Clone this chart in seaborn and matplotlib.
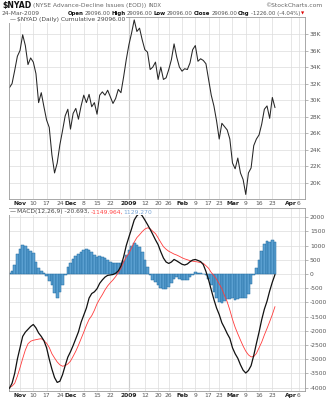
import numpy as np
import pandas as pd
import matplotlib
matplotlib.use("Agg")
import matplotlib.pyplot as plt
import seaborn as sns

# ---- data -------------------------------------------------------------
# NYSE cumulative advance-decline line, one value per trading day
# (Oct 28 2008 .. Mar 24 2009)
ad_line = [31500, 32000, 33600, 35300, 36000, 37900, 36600, 34300, 35100, 34600,
           33200, 29700, 30900, 29200, 27600, 26700, 23400, 21200, 22400, 24600,
           26300, 28100, 28900, 26500, 28400, 29000, 27700, 29300, 30600, 29700,
           30700, 29200, 29700, 28300, 30600, 31000, 30600, 31200, 30400, 29600,
           30200, 31300, 30900, 32800, 34900, 36700, 38100, 39700, 38300, 38700,
           37300, 36100, 35800, 33700, 34000, 34600, 32500, 34000, 32500, 32700,
           33700, 34900, 36800, 35200, 34000, 33500, 33800, 33700, 34500, 36100,
           36600, 34700, 35000, 34800, 34400, 32500, 30600, 29300, 27500, 25300,
           27200, 26800, 26400, 25300, 22400, 21700, 23000, 21200, 20400, 18600,
           21200, 21800, 24500, 25300, 25800, 27100, 28900, 29300, 27800, 30322,
           29096]

macd_line = [-4030, -3850, -3500, -3000, -2600, -2200, -2050, -1950, -1850, -1780,
             -1900, -2080, -2200, -2350, -2600, -3000, -3350, -3650, -3820, -3780,
             -3550, -3230, -2930, -2740, -2520, -2280, -2040, -1700, -1450, -1200,
             -850, -690, -630, -520, -330, -210, -110, -50, -35, -20,
             25, 110, 280, 600, 1000, 1300, 1590, 1900, 2050, 2140,
             2050, 1900, 1740, 1570, 1390, 1200, 1030, 780, 560, 420,
             370, 420, 510, 460, 400, 340, 315, 350, 430, 490,
             510, 475, 435, 330, 90, -210, -560, -900, -1200, -1430,
             -1720, -1900, -2100, -2270, -2600, -2810, -2970, -3200, -3390, -3490,
             -3400, -3230, -2870, -2450, -2050, -1610, -1240, -960, -600, -290,
             -20.693]

signal_line = [-4000, -3950, -3850, -3600, -3300, -2980, -2680, -2460, -2370, -2335,
               -2315, -2295, -2280, -2350, -2440, -2590, -2810, -2960, -3100, -3200,
               -3250, -3230, -3170, -3070, -2900, -2720, -2510, -2280, -2050, -1810,
               -1600, -1470, -1280, -1050, -880, -730, -560, -420, -310, -210,
               -93, 50, 200, 420, 600, 720, 920, 1120, 1280, 1380,
               1490, 1580, 1625, 1590, 1500, 1420, 1270, 1110, 960, 870,
               800, 750, 700, 665, 620, 570, 530, 500, 468, 450,
               435, 420, 400, 375, 290, 200, 50, -60, -190, -350,
               -520, -760, -980, -1270, -1600, -1880, -2110, -2330, -2540, -2720,
               -2850, -2920, -2910, -2800, -2600, -2400, -2150, -1920, -1680, -1430,
               -1149.964]

macd_hist = [20, 100, 330, 700, 880, 1010, 1000, 880, 820, 720,
             420, 220, 120, 20, -80, -250, -400, -680, -860, -650,
             -380, -40, 260, 380, 520, 640, 710, 760, 860, 890,
             850, 760, 670, 590, 620, 600, 550, 500, 420, 380,
             370, 390, 370, 450, 680, 850, 1000, 1090, 1020, 960,
             760, 480, 230, -30, -200, -300, -400, -480, -530, -520,
             -460, -330, -180, -100, -180, -230, -230, -220, -120, -20,
             80, 45, 25, 0, -30, -180, -400, -650, -830, -1000,
             -1040, -950, -890, -900, -860, -920, -900, -850, -850, -850,
             -700, -350, -50, 200, 480, 800, 1040, 1150, 1130, 1180,
             1129.270]

first_day, last_day = "2008-10-28", "2009-04-09"
market_holidays = ["2008-11-27", "2008-12-25", "2009-01-01", "2009-01-19",
                   "2009-02-16"]

tick_dates = ["2008-11-03", "2008-11-10", "2008-11-17", "2008-11-24",
              "2008-12-01", "2008-12-08", "2008-12-15", "2008-12-22",
              "2009-01-02", "2009-01-12", "2009-01-20", "2009-01-26",
              "2009-02-02", "2009-02-09", "2009-02-17", "2009-02-23",
              "2009-03-02", "2009-03-09", "2009-03-16", "2009-03-23",
              "2009-04-01", "2009-04-06"]
tick_labels = ["Nov", "10", "17", "24", "Dec", "8", "15", "22", "2009", "12",
               "20", "26", "Feb", "9", "17", "23", "Mar", "9", "16", "23",
               "Apr", "6"]
bold_labels = {"Nov", "Dec", "2009", "Feb", "Mar", "Apr"}

ad_ticks = np.arange(20000, 38001, 2000)
ad_tick_labels = [f"{v // 1000}K" for v in ad_ticks]
macd_ticks = np.arange(-4000, 2001, 500)

# ---- trading-day axis ------------------------------------------------
calendar = pd.bdate_range(first_day, last_day)
calendar = calendar[~calendar.isin(pd.to_datetime(market_holidays))]
day_pos = {d: i - 4 for i, d in enumerate(calendar)}   # Nov 3 -> 0
pos = np.array([day_pos[d] for d in calendar[:len(ad_line)]])
tick_pos = [day_pos[pd.Timestamp(d)] for d in tick_dates]

# ---- styling ----------------------------------------------------------
sns.set_style("white")
plt.rcParams["font.family"] = ["DejaVu Sans"]
W, H = 330, 400
fig = plt.figure(figsize=(W / 100, H / 100), dpi=100)
fig.patch.set_facecolor("white")

grid_c = "#dcdcdc"
frame_c = "#9a9a9a"
text_c = "#555555"
fs = 4.3

ax1 = fig.add_axes([9 / W, 1 - 199 / H, 296 / W, 182 / H])
ax2 = fig.add_axes([9 / W, 1 - 390.5 / H, 296 / W, 183 / H])

xlim = (-4.15, 107.3)


def style_axis(ax, yticks, ylabels, ylim):
    ax.set_xlim(*xlim)
    ax.set_ylim(*ylim)
    ax.set_yticks(yticks)
    ax.set_yticklabels(ylabels)
    ax.yaxis.tick_right()
    ax.set_xticks(tick_pos)
    ax.set_xticklabels(tick_labels)
    for lab in ax.get_xticklabels():
        if lab.get_text() in bold_labels:
            lab.set_fontweight("bold")
            lab.set_color("#222222")
        else:
            lab.set_color(text_c)
    ax.tick_params(axis="x", length=0, pad=1.5, labelsize=fs)
    ax.tick_params(axis="y", length=2, width=0.5, pad=1.5, labelsize=fs,
                   colors=frame_c, labelcolor=text_c)
    ax.grid(True, color=grid_c, linewidth=0.5)
    ax.set_axisbelow(True)
    for s in ax.spines.values():
        s.set_color(frame_c)
        s.set_linewidth(0.6)
    # darker year separator
    ax.axvline(day_pos[pd.Timestamp("2009-01-02")], color="#a8a8a8",
               linewidth=0.8, zorder=0.5)
    ax.set_xlabel("")
    ax.set_ylabel("")


# ---- top panel: cumulative A/D line ----------------------------------
sns.lineplot(x=pos, y=ad_line, ax=ax1, color="#262626", linewidth=0.75)
style_axis(ax1, ad_ticks, ad_tick_labels, (18050, 40050))

# ---- bottom panel: MACD ----------------------------------------------
sns.barplot(x=pos, y=macd_hist, native_scale=True, ax=ax2, width=1.0,
            color="#5a9fd0", saturation=1, edgecolor="#1f6aa0",
            linewidth=0.35, errorbar=None, zorder=1)
sns.lineplot(x=pos, y=macd_line, ax=ax2, color="#111111", linewidth=0.9,
             zorder=3)
sns.lineplot(x=pos, y=signal_line, ax=ax2, color="#ff3b3b", linewidth=0.6,
             zorder=2)
style_axis(ax2, macd_ticks, [str(v) for v in macd_ticks], (-4105, 2340))

# ---- text rows ---------------------------------------------------------
renderer = fig.canvas.get_renderer()


def put_row(x0, y, pieces, gap=1.2, box=False, size=fs):
    x = x0
    for s, kw in pieces:
        kw = dict(kw)
        kw.setdefault("fontsize", size)
        kw.setdefault("color", text_c)
        if box:
            kw["bbox"] = dict(facecolor="white", edgecolor="none", pad=0.6)
        t = fig.text(x / W, 1 - y / H, s, va="center", ha="left", **kw)
        x += t.get_window_extent(renderer).width + gap
    return x


put_row(2, 5.5, [("$NYAD", dict(fontweight="bold", color="#111111",
                                 fontsize=5.6)),
                 ("(NYSE Advance-Decline Issues (EOD))", dict(color="#666666")),
                 ("INDX", dict(color="#666666", fontsize=3.8))], gap=1.8)
fig.text(322 / W, 1 - 5.5 / H, "\u00a9StockCharts.com", ha="right",
         va="center", fontsize=fs, color="#666666")

chg = ad_line[-1] - ad_line[-2]
chg_pct = chg / ad_line[-2] * 100
last = f"{ad_line[-1]:.2f}"
put_row(2, 13.2, [("24-Mar-2009", {})])
put_row(68, 13.2, [("Open", dict(fontweight="bold", color="#111111")),
                   (last, {}),
                   ("High", dict(fontweight="bold", color="#111111")),
                   (last, {}),
                   ("Low", dict(fontweight="bold", color="#111111")),
                   (last, {}),
                   ("Close", dict(fontweight="bold", color="#111111")),
                   (last, {}),
                   ("Chg", dict(fontweight="bold", color="#111111")),
                   (f"{chg:.2f} ({chg_pct:.2f}%)", {}),
                   ("\u25bc", dict(color="#dd0000", fontsize=3.0))],
        gap=1.0, size=3.85)

put_row(10, 19.8, [("\u2014", dict(color="#333333")),
                   (f"$NYAD (Daily) Cumulative {ad_line[-1]:.2f}",
                    dict(color="#444444"))], gap=1.0, box=True)

put_row(10, 212, [("\u2014", dict(color="#111111")),
                  (f"MACD(12,26,9) {macd_line[-1]:.3f},",
                   dict(color="#444444")),
                  (f"{signal_line[-1]:.3f},", dict(color="#ff4444")),
                  (f"{macd_hist[-1]:.3f}", dict(color="#7aa6d6"))],
        gap=1.0, box=True)

fig.savefig("out.png", dpi=100, facecolor="white")
